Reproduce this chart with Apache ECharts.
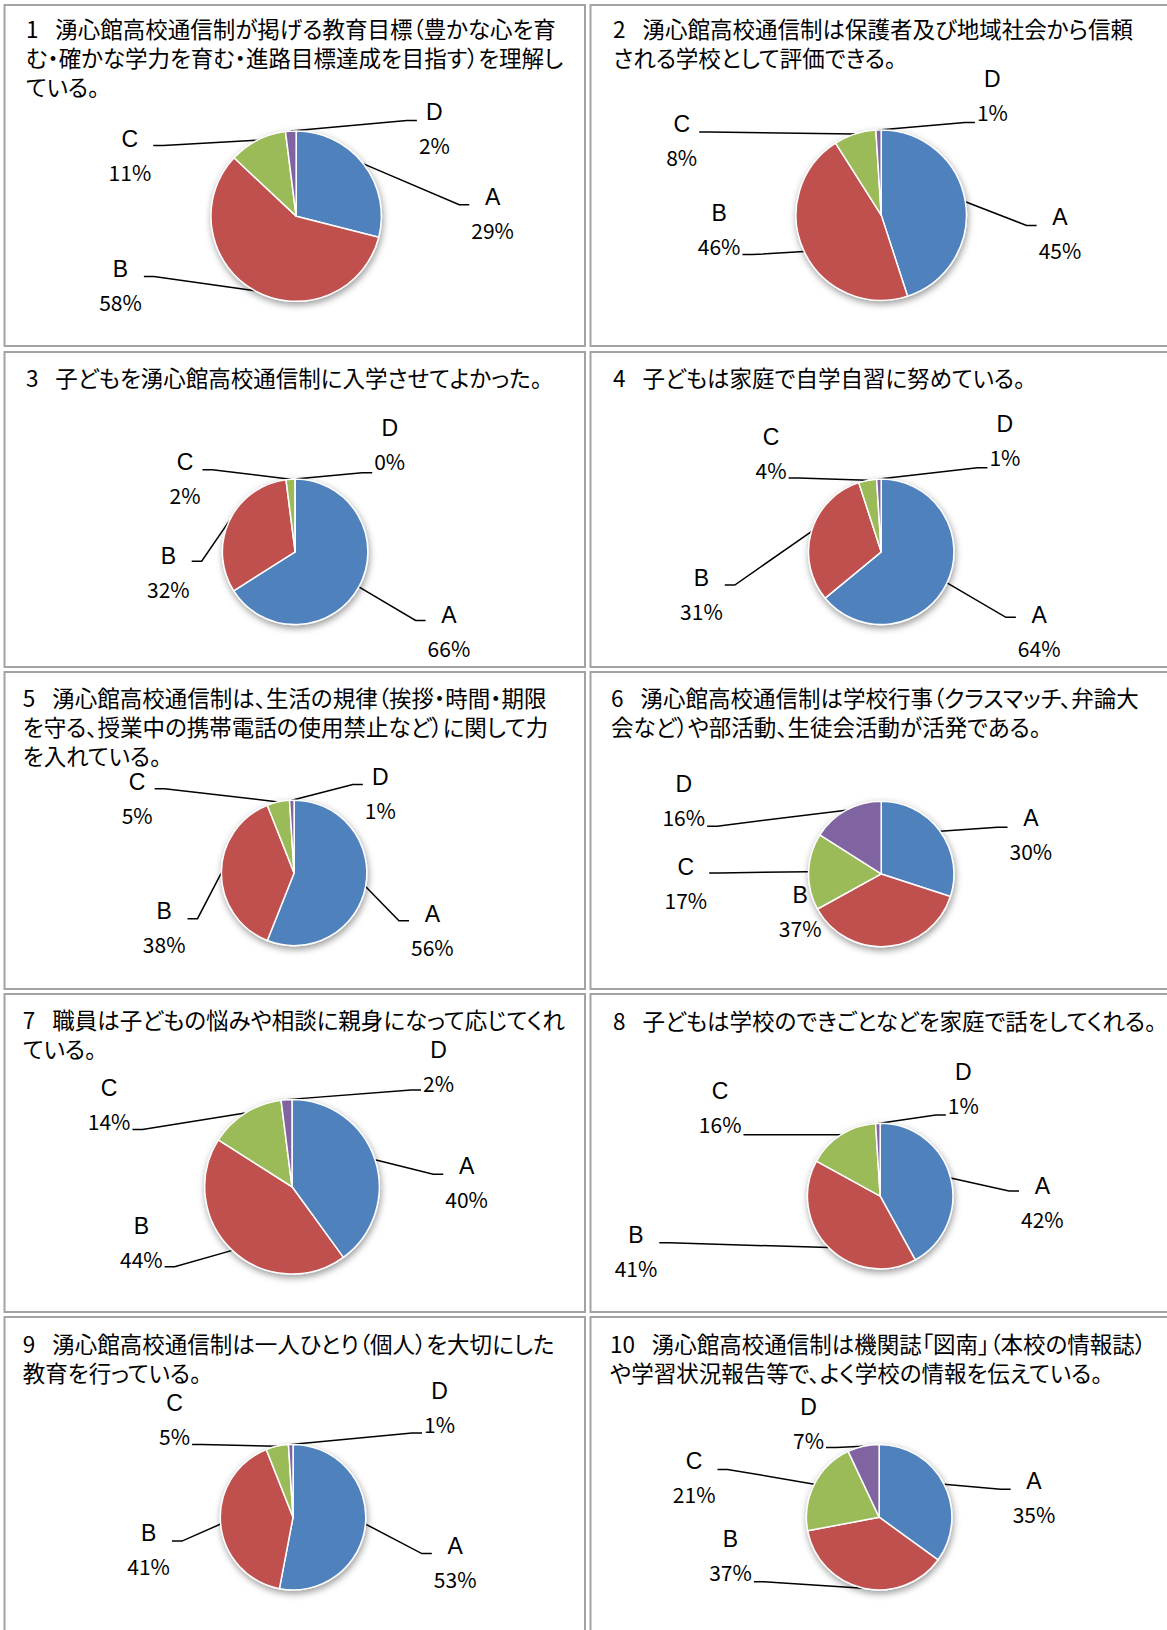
<!DOCTYPE html>
<html>
<head>
<meta charset="utf-8">
<script src="https://cdn.jsdelivr.net/npm/echarts@6/dist/echarts.min.js"></script>
<style>
html,body{margin:0;padding:0;background:#fff;}
#c{width:1167px;height:1630px;}
#c svg text{font-feature-settings:"palt" 1 !important;}
</style>
</head>
<body>
<div id="c"></div>
<script>
// ---------- data ----------
const categories = ['A', 'B', 'C', 'D'];
const questions = [
  '1\u2002\u2005湧心館高校通信制が掲げる教育目標（豊かな心を育\nむ・確かな学力を育む・進路目標達成を目指す）を理解し\nている。',
  '2\u2002\u2005湧心館高校通信制は保護者及び地域社会から信頼\nされる学校として評価できる。',
  '3\u2002\u2005子どもを湧心館高校通信制に入学させてよかった。',
  '4\u2002\u2005子どもは家庭で自学自習に努めている。',
  '5\u2002\u2005湧心館高校通信制は、生活の規律（挨拶・時間・期限\nを守る、授業中の携帯電話の使用禁止など）に関して力\nを入れている。',
  '6\u2002\u2005湧心館高校通信制は学校行事（クラスマッチ、弁論大\n会など）や部活動、生徒会活動が活発である。',
  '7\u2002\u2005職員は子どもの悩みや相談に親身になって応じてくれ\nている。',
  '8\u2002\u2005子どもは学校のできごとなどを家庭で話をしてくれる。',
  '9\u2002\u2005湧心館高校通信制は一人ひとり（個人）を大切にした\n教育を行っている。',
  '10\u2002\u2005湧心館高校通信制は機関誌「図南」（本校の情報誌）\nや学習状況報告等で、よく学校の情報を伝えている。'
];
const q1 = [29, 58, 11, 2];
const q2 = [45, 46, 8, 1];
const q3 = [66, 32, 2, 0];
const q4 = [64, 31, 4, 1];
const q5 = [56, 38, 5, 1];
const q6 = [30, 37, 17, 16];
const q7 = [40, 44, 14, 2];
const q8 = [42, 41, 16, 1];
const q9 = [53, 41, 5, 1];
const q10 = [35, 37, 21, 7];
const values = [q1, q2, q3, q4, q5, q6, q7, q8, q9, q10];

// ---------- layout (measured on a 1123px-wide copy, scaled) ----------
const S = 1167 / 1123;
const colors = ['#4F81BD', '#C0504D', '#9BBB59', '#8064A2'];
const titlePos = [[25, 27], [590, 27], [25, 363], [590, 363], [22, 671], [588, 671], [22, 981], [590, 982], [22, 1292], [587, 1292]];
const pies = [
  {c: [285, 208], r: 82}, {c: [848, 207], r: 82},
  {c: [284, 531], r: 70}, {c: [848, 531], r: 70},
  {c: [283, 840], r: 70}, {c: [848, 841], r: 70},
  {c: [281, 1142], r: 84}, {c: [847, 1151], r: 70},
  {c: [282, 1460], r: 70}, {c: [846, 1460], r: 70}
];
// label centre offset from pie centre [dx, dy, leader attach dy] (null = no leader)
const placements = [
  [[189, -3, -8], [-169, 67, -9], [-160, -58, -10], [133, -84, -8]],
  [[172, 18, -8], [-156, 14, 24], [-192, -72, -8], [107, -115, 26]],
  [[148, 77, -11], [-122, 20, -11], [-106, -71, -8], [91, -103, 27]],
  [[152, 77, -14], [-173, 41, -9], [-106, -95, 24], [119, -107, 26]],
  [[133, 55, -9], [-125, 53, -9], [-151, -72, -9], [83, -76, -9]],
  [[144, -38, -7], [-78, 36, null], [-188, 9, -10], [-190, -71, 25]],
  [[168, -4, -8], [-145, 54, 23], [-176, -79, 24], [141, -116, 23]],
  [[156, 6, -11], [-235, 53, -8], [-154, -85, 26], [80, -104, 26]],
  [[156, 44, -9], [-139, 31, -8], [-114, -94, 24], [141, -106, 25]],
  [[149, -19, -8], [-143, 37, 25], [-178, -38, -8], [-68, -90, 23]]
];
const panelCols = [[4.5, 585], [590.5, 1175]];
const panelRows = [[5, 346], [352, 667], [672, 989], [994, 1312], [1317, 1645]];

function makeLabelLayout(ci) {
  return function (params) {
    const idx = params.dataIndex;
    const pie = pies[ci];
    const cx = pie.c[0] * S, cy = pie.c[1] * S, r = pie.r * S;
    const vals = values[ci];
    const total = vals.reduce((a, b) => a + b, 0);
    let before = 0;
    for (let i = 0; i < idx; i++) before += vals[i];
    const mid = (before + vals[idx] / 2) / total;
    const ang = (90 - mid * 360) * Math.PI / 180;
    const ax = cx + r * Math.cos(ang), ay = cy - r * Math.sin(ang);
    const p = placements[ci][idx];
    const lx = cx + p[0] * S, ly = cy + p[1] * S;
    const w = params.labelRect.width;
    let pts;
    if (p[2] === null) {
      pts = [[lx, ly], [lx, ly], [lx, ly]];
    } else {
      const ty = ly + p[2] * S;
      const toRight = lx > ax;
      const ex = toRight ? lx - w / 2 - 2 : lx + w / 2 + 2;
      const bx = toRight ? ex - 10 : ex + 10;
      pts = [[ax, ay], [bx, ty], [ex, ty]];
    }
    return {x: lx, y: ly, align: 'center', verticalAlign: 'middle', labelLinePoints: pts};
  };
}

const graphics = [];
panelRows.forEach(rw => panelCols.forEach(cl => {
  graphics.push({
    type: 'rect', silent: true, z: 0,
    shape: {x: cl[0], y: rw[0], width: cl[1] - cl[0], height: rw[1] - rw[0]},
    style: {fill: 'none', stroke: '#a3a3a3', lineWidth: 2}
  });
}));
pies.forEach(p => {
  graphics.push({
    type: 'circle', silent: true, z: 1,
    shape: {cx: p.c[0] * S, cy: p.c[1] * S, r: p.r * S},
    style: {fill: '#fff', stroke: '#d9d9d9', lineWidth: 1.5, shadowBlur: 7, shadowOffsetX: 1, shadowOffsetY: 3, shadowColor: 'rgba(0,0,0,0.4)'}
  });
});

const titles = questions.map((q, i) => ({
  text: q,
  left: titlePos[i][0] * S,
  top: titlePos[i][1] * S - 14.5,
  padding: 0,
  textStyle: {fontFamily: 'Noto Sans CJK JP', fontSize: 22.5, fontWeight: 'normal', color: '#000', lineHeight: 29}
}));

const series = values.map((vals, i) => ({
  type: 'pie',
  center: [pies[i].c[0] * S, pies[i].c[1] * S],
  radius: pies[i].r * S,
  startAngle: 90,
  clockwise: true,
  avoidLabelOverlap: false,
  silent: true,
  z: 3,
  data: categories.map((n, k) => ({name: n, value: vals[k]})),
  itemStyle: {borderColor: '#fff', borderWidth: 1.5},
  label: {
    show: true,
    position: 'outside',
    formatter: p => '{l|' + p.name + '}\n{v|' + p.value + '%}',
    rich: {
      l: {fontFamily: 'Liberation Sans', fontSize: 23, lineHeight: 33, color: '#000'},
      v: {fontFamily: 'Noto Sans CJK JP', fontSize: 21, lineHeight: 33, color: '#000'}
    }
  },
  labelLine: {show: true, length: 10, length2: 10, lineStyle: {color: '#000', width: 1.5}},
  labelLayout: makeLabelLayout(i),
  emphasis: {disabled: true}
}));

const chart = echarts.init(document.getElementById('c'), null, {renderer: 'svg'});
chart.setOption({
  animation: false,
  color: colors,
  title: titles,
  graphic: graphics,
  series: series
});
</script>
</body>
</html>
